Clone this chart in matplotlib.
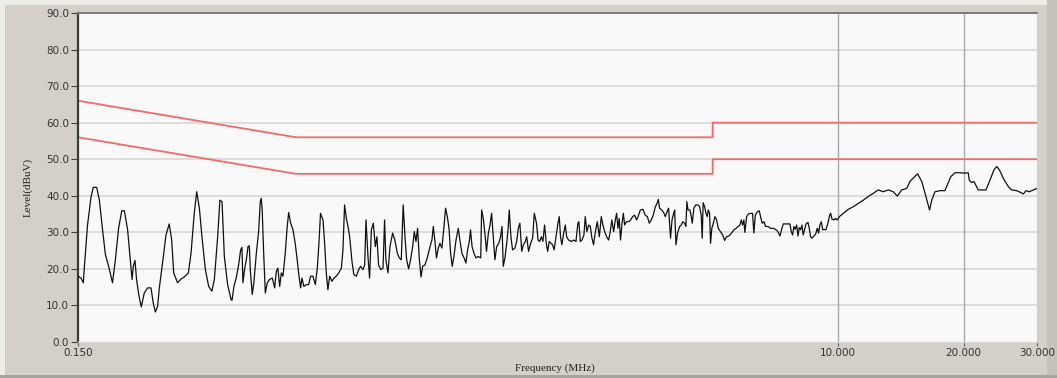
import matplotlib
matplotlib.use("Agg")
import matplotlib.pyplot as plt
from matplotlib.patches import Rectangle

# ---------------- data ----------------
freq_mhz = [
    0.150, 0.1525, 0.1545, 0.1553, 0.1581, 0.1612, 0.1632, 0.1663, 0.1688, 0.1718,
    0.1745, 0.1777, 0.1815, 0.1844, 0.1877, 0.1910, 0.1938, 0.1973, 0.2003, 0.2022,
    0.2036, 0.2055, 0.2073, 0.2098, 0.2128, 0.2163, 0.2204, 0.2245, 0.2273, 0.2300,
    0.2329, 0.2351, 0.2393, 0.2439, 0.2483, 0.2517, 0.2545, 0.2600, 0.2650, 0.2699,
    0.2760, 0.2801, 0.2851, 0.2890, 0.2933, 0.2975, 0.3032, 0.3088, 0.3143, 0.3186,
    0.3245, 0.3285, 0.3324, 0.3367, 0.3428, 0.3494,
    0.3512, 0.3550, 0.3595, 0.3644, 0.3684, 0.3711, 0.3731, 0.3764, 0.3802, 0.3837,
    0.3865, 0.3886, 0.3928, 0.3963, 0.4018, 0.4069, 0.4106, 0.4128, 0.4150, 0.4184,
    0.4222, 0.4268, 0.4322, 0.4389, 0.4446, 0.4486, 0.4526, 0.4571, 0.4613, 0.4655,
    0.4714, 0.4765, 0.4804, 0.4857, 0.4919, 0.4980, 0.5040, 0.5086, 0.5132, 0.5169,
    0.5224, 0.5296, 0.5364, 0.5422, 0.5495, 0.5566, 0.5627, 0.5678, 0.5728, 0.5807,
    0.5860, 0.5913, 0.5966, 0.6026, 0.6103, 0.6170, 0.6248, 0.6333, 0.6426, 0.6484,
    0.6542, 0.6607, 0.6668, 0.6728, 0.6814, 0.6887, 0.6982, 0.7071, 0.7148, 0.7244,
    0.7311, 0.7364, 0.7444, 0.7511, 0.7586, 0.7669, 0.7753, 0.7823, 0.7893, 0.7987,
    0.8090,
    0.8160, 0.8219, 0.8315, 0.8407, 0.8530, 0.8637, 0.8755, 0.8851, 0.8948, 0.9044,
    0.9134, 0.9218, 0.9319, 0.9420, 0.9530, 0.9617, 0.9705, 0.9793, 0.9881, 0.9979,
    1.007, 1.020, 1.033, 1.049, 1.060, 1.068, 1.078, 1.087, 1.098, 1.108,
    1.120, 1.133, 1.143, 1.154, 1.165, 1.175, 1.186, 1.197, 1.211, 1.226,
    1.237, 1.251, 1.266, 1.279, 1.291, 1.303, 1.312, 1.323, 1.337, 1.352,
    1.369, 1.388, 1.395, 1.408, 1.423, 1.433, 1.448, 1.461, 1.474, 1.488,
    1.501, 1.516, 1.533, 1.549, 1.561, 1.572, 1.587, 1.602, 1.614, 1.625,
    1.640, 1.655, 1.677, 1.693, 1.708, 1.723, 1.741, 1.757, 1.776, 1.789,
    1.808, 1.829, 1.849, 1.866,
    1.889, 1.905, 1.922, 1.940, 1.957, 1.975, 1.994, 2.009, 2.027, 2.046,
    2.064, 2.082, 2.104, 2.127, 2.142, 2.157, 2.173, 2.195, 2.215, 2.231,
    2.255, 2.290, 2.319, 2.349, 2.374, 2.387, 2.406, 2.428, 2.455, 2.473,
    2.495, 2.520, 2.543, 2.566, 2.589, 2.612, 2.643, 2.673, 2.702, 2.726,
    2.753, 2.783, 2.814, 2.839, 2.864, 2.893, 2.920, 2.941, 2.962, 2.983,
    3.005, 3.030, 3.052, 3.074, 3.102, 3.141, 3.178, 3.213, 3.248, 3.283,
    3.310, 3.352, 3.401, 3.444, 3.485, 3.523, 3.561, 3.600, 3.642, 3.676,
    3.702, 3.729, 3.776, 3.821, 3.849, 3.884, 3.919, 3.961, 3.994, 4.030,
    4.052, 4.082, 4.118, 4.166, 4.205, 4.236, 4.282, 4.312, 4.335, 4.363,
    4.410, 4.442, 4.466, 4.506, 4.555, 4.609, 4.651, 4.693, 4.719, 4.744,
    4.782, 4.818, 4.853, 4.879, 4.915, 4.941, 4.976, 5.017, 5.063, 5.109,
    5.156, 5.220, 5.282, 5.340, 5.398, 5.466, 5.542, 5.623, 5.693, 5.750,
    5.813, 5.856, 5.898, 5.940, 5.972, 6.032, 6.087, 6.165, 6.232, 6.276,
    6.328, 6.397, 6.467, 6.514, 6.572, 6.638, 6.699, 6.784, 6.881, 6.989,
    7.078, 7.167, 7.252, 7.318, 7.385, 7.479, 7.580, 7.663, 7.719, 7.775,
    7.831, 7.887, 7.951, 8.010, 8.068, 8.127, 8.186, 8.244, 8.311, 8.372,
    8.464, 8.525, 8.587, 8.648, 8.751, 8.831, 8.911, 8.975, 9.039, 9.113,
    9.180, 9.247, 9.348, 9.449, 9.542, 9.595, 9.665, 9.771, 9.859, 9.955,
    10.07,
    10.29, 10.58, 10.87, 11.18, 11.49, 11.81, 12.15, 12.48, 12.83, 13.20,
    13.56, 13.87, 14.20, 14.60, 14.87, 15.21, 15.51, 15.87, 16.16, 16.36,
    16.57, 16.77, 17.07, 17.56, 18.04, 18.28, 18.62, 19.07, 19.60, 20.16,
    20.52, 20.63, 20.91, 21.18, 21.68, 22.30, 22.63, 23.14, 23.65, 24.01,
    24.37, 24.90, 25.61, 26.07, 26.81, 27.40, 27.82, 28.23, 28.74, 29.40,
    30.00,
]

level_dbuv = [
    18.0, 17.5, 16.2, 20.2, 32.0, 39.7, 42.3, 42.3, 38.8, 30.7,
    23.9, 20.7, 16.2, 22.5, 31.1, 35.9, 35.9, 30.7, 22.5, 17.1,
    20.7, 22.3, 17.1, 13.0, 9.6, 13.4, 14.8, 14.8, 10.7, 8.2,
    9.8, 14.8, 21.6, 29.3, 32.3, 27.9, 18.9, 16.2, 17.2, 17.8,
    18.9, 24.3, 35.2, 41.1, 36.6, 28.8, 19.8, 15.2, 13.9, 17.1,
    28.8, 38.8, 38.4, 23.4, 15.7, 11.6,
    11.4, 15.2, 17.5, 21.1, 25.2, 25.9, 16.2, 19.8, 22.5, 26.1,
    26.3, 19.8, 13.0, 16.2, 24.3, 30.2, 38.4, 39.3, 36.1, 24.3,
    13.4, 16.2, 17.1, 17.5, 14.8, 19.3, 20.2, 15.2, 18.9, 18.0,
    24.3, 31.6, 35.4, 32.5, 30.7, 27.0, 22.1, 18.0, 14.8, 17.5,
    15.2, 15.7, 15.7, 18.0, 18.0, 15.7, 20.2, 27.0, 35.2, 33.4,
    27.0, 18.9, 14.3, 18.0, 16.6, 17.5, 18.0, 18.9, 20.2, 25.2,
    37.5, 33.8, 31.6, 28.8, 22.1, 18.4, 18.0, 19.8, 20.7, 19.8,
    21.1, 33.4, 23.4, 17.5, 30.7, 32.5, 26.1, 28.8, 21.1, 19.8,
    20.2,
    33.4, 22.5, 18.9, 26.1, 29.8, 27.9, 24.3, 23.0, 22.5, 37.5,
    28.8, 22.5, 20.0, 22.5, 26.1, 30.2, 27.5, 31.1, 23.0, 17.8,
    20.7, 21.1, 23.0, 26.1, 27.9, 31.6, 27.5, 23.0, 25.7, 27.0,
    25.7, 31.6, 36.6, 34.3, 31.1, 24.3, 20.7, 23.4, 27.9, 31.1,
    27.9, 24.3, 23.0, 21.6, 25.2, 27.5, 30.7, 26.1, 24.3, 23.0,
    23.4, 23.0, 36.1, 33.8, 28.8, 24.8, 29.8, 32.0, 35.2, 28.8,
    22.5, 26.1, 27.0, 28.8, 31.6, 20.7, 23.0, 27.0, 30.7, 36.1,
    28.8, 25.2, 25.7, 27.5, 31.1, 32.5, 24.8, 26.6, 27.5, 28.8,
    24.8, 27.0, 28.4, 35.2,
    32.5, 27.9, 27.5, 28.8, 27.5, 32.0, 27.0, 24.8, 27.5, 27.0,
    26.6, 25.2, 28.8, 32.5, 34.3, 28.8, 26.6, 29.8, 32.0, 28.8,
    27.9, 27.5, 27.9, 27.5, 32.5, 32.9, 27.5, 27.9, 29.3, 34.3,
    30.2, 32.0, 31.6, 28.4, 26.6, 29.8, 32.9, 28.8, 34.3, 32.0,
    30.2, 28.8, 27.9, 30.2, 33.4, 30.2, 33.4, 35.2, 31.1, 33.8,
    27.9, 32.5, 35.2, 32.0, 32.9, 32.9, 33.4, 34.3, 34.7, 33.4,
    34.3, 36.1, 36.3, 34.7, 34.3, 32.5, 33.4, 34.7, 37.0, 37.9,
    39.0, 36.6, 36.1, 35.2, 34.3, 35.6, 36.6, 28.4, 33.4, 35.2,
    36.1, 26.6, 29.8, 31.6, 32.0, 32.9, 32.5, 31.6, 38.4, 36.1,
    36.1, 34.3, 32.5, 36.6, 37.5, 37.5, 37.0, 34.7, 28.4, 38.1,
    37.0, 35.2, 34.3, 36.1, 35.2, 27.0, 31.1, 32.5, 34.3, 33.4,
    31.1, 30.2, 29.3, 27.8, 28.8, 29.0, 29.7, 30.7, 31.1, 31.6,
    32.0, 33.4, 32.0, 33.4, 30.0, 34.3, 35.0, 35.2, 35.2, 29.8,
    34.7, 35.6, 35.9, 34.3, 32.5, 32.9, 31.6, 31.6, 31.1, 31.1,
    30.8, 30.2, 29.0, 30.8, 32.3, 32.3, 32.3, 32.3, 30.2, 29.3,
    31.6, 30.8, 32.0, 29.0, 31.3, 30.7, 32.0, 29.3, 30.8, 32.3,
    32.7, 31.1, 28.8, 28.4, 29.0, 29.5, 31.1, 29.8, 32.0, 32.9,
    30.7, 30.8, 30.7, 32.5, 34.7, 35.2, 33.6, 33.4, 33.8, 33.4,
    34.3,
    35.2, 36.3, 37.0, 37.9, 38.8, 39.8, 40.7, 41.6, 41.1, 41.6,
    41.1, 39.9, 41.6, 42.0, 43.9, 45.1, 46.0, 43.9, 40.7, 38.4,
    36.1, 38.8, 41.1, 41.4, 41.4, 43.0, 45.2, 46.3, 46.3, 46.2,
    46.3, 44.3, 43.6, 43.9, 41.6, 41.6, 41.6, 44.3, 47.1, 48.0,
    47.1, 44.8, 42.5, 41.6, 41.4, 40.9, 40.5, 41.4, 41.1, 41.6,
    42.0,
]

limit_freq = [0.15, 0.5, 5.0, 5.0, 30.0]
qp_limit = [66.0, 56.0, 56.0, 60.0, 60.0]
av_limit = [56.0, 46.0, 46.0, 50.0, 50.0]

y_ticks = [0, 10, 20, 30, 40, 50, 60, 70, 80, 90]
y_tick_labels = ["0.0", "10.0", "20.0", "30.0", "40.0", "50.0", "60.0",
                 "70.0", "80.0", "90.0"]
x_ticks = [0.15, 10, 20, 30]
x_tick_labels = ["0.150", "10.000", "20.000", "30.000"]

# ---------------- figure ----------------
W, H = 1057, 378
fig = plt.figure(figsize=(W / 100, H / 100), dpi=100, facecolor="#d4d0c8")

# window-like frame (drawn beneath everything)
for (x0, y0, w, h, c) in [
    (0, 1 - 5 / H, 1, 5 / H, "#eeece6"),
    (0, 0, 5 / W, 1, "#eeece6"),
    (1 - 10 / W, 0, 10 / W, 1, "#c6c2ba"),
    (0, 0, 1, 3 / H, "#a8a49c"),
]:
    fig.patches.append(Rectangle((x0, y0), w, h, transform=fig.transFigure,
                                 facecolor=c, edgecolor="none", zorder=-5))

left, right, top, bottom = 78, 1037, 13, 342
ax = fig.add_axes([left / W, 1 - bottom / H, (right - left) / W, (bottom - top) / H])
ax.set_zorder(2)
ax.set_facecolor("#f9f9f9")

ax.set_xscale("log")
ax.set_xlim(0.15, 30)
ax.set_ylim(0, 90)

# grid
for yv in y_ticks[1:-1]:
    ax.axhline(yv, color="#dcdcdc", lw=1.4, zorder=1)
for xv in [10, 20]:
    ax.axvline(xv, color="#a8a8a8", lw=1.0, zorder=1)

# limits
ax.plot(limit_freq, qp_limit, color="#f26a6a", lw=1.3, zorder=2)
ax.plot(limit_freq, av_limit, color="#f26a6a", lw=1.3, zorder=2)

# measurement trace
ax.plot(freq_mhz, level_dbuv, color="#101010", lw=0.9, zorder=3)

# ticks
ax.set_yticks(y_ticks)
ax.set_yticklabels(y_tick_labels)
ax.set_xticks(x_ticks)
ax.set_xticklabels(x_tick_labels)
ax.xaxis.set_minor_locator(matplotlib.ticker.NullLocator())
ax.tick_params(axis="y", direction="out", length=5, width=0.8, color="#404040",
               labelsize=7.5, labelcolor="#333333", pad=1.5)
ax.tick_params(axis="x", direction="out", length=3, width=0.8, color="#606060",
               labelsize=7.5, labelcolor="#333333", pad=1)
for lab in ax.get_xticklabels() + ax.get_yticklabels():
    lab.set_family(["DejaVu Sans"])

# spines
ax.spines["left"].set_color("#3a3a3a")
ax.spines["left"].set_linewidth(1.6)
ax.spines["top"].set_color("#7a7a7a")
ax.spines["top"].set_linewidth(1.4)
ax.spines["right"].set_color("#cfcfcf")
ax.spines["right"].set_linewidth(0.8)
ax.spines["bottom"].set_color("#d8d8d8")
ax.spines["bottom"].set_linewidth(1.0)

fig.text(555 / W, 1 - 368 / H, "Frequency (MHz)", ha="center", va="center",
         fontsize=8, family=["Liberation Serif", "DejaVu Serif"], color="#202020")
fig.text(28 / W, 1 - 187 / H, "Level(dBuV)", ha="center", va="center", rotation=90,
         fontsize=8, family=["Liberation Serif", "DejaVu Serif"], color="#202020")

fig.savefig("out.png", dpi=100, facecolor=fig.get_facecolor())
